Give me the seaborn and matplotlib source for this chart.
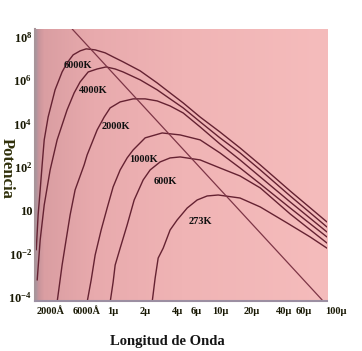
import numpy as np
import pandas as pd
import matplotlib
matplotlib.use('Agg')
import matplotlib.pyplot as plt
import matplotlib.transforms as mtransforms
import seaborn as sns

# longitud de onda (micras) / potencia
lam_6000 = [0.192, 0.200, 0.209, 0.218, 0.228, 0.248, 0.288, 0.335, 0.373, 0.425, 0.494, 0.562, 0.682,
            0.846, 1.004, 1.246, 1.796, 2.589, 3.42, 4.53, 6.53, 10.0, 15.4, 23.8, 45.3, 100]
pot_6000 = [1.5e-2, 0.61, 8.7, 124, 1.77e3, 2.0e4, 3.6e5, 2.4e6, 6.3e6, 1.48e7, 2.26e7, 2.79e7, 2.51e7,
            1.83e7, 1.19e7, 7.0e6, 2.7e6, 7.5e5, 2.6e5, 9.0e4, 2.0e4, 4.1e3, 755, 124, 7.8, 0.29]

lam_4000 = [0.196, 0.209, 0.228, 0.259, 0.301, 0.373, 0.434, 0.494, 0.587, 0.712, 0.864, 1.049, 1.246,
            1.796, 2.589, 3.42, 4.53, 6.53, 10.0, 15.4, 23.8, 45.3, 100]
pot_4000 = [6.1e-4, 0.043, 1.77, 73, 1.77e3, 4.3e4, 2.6e5, 8.4e5, 2.4e6, 3.3e6, 4.1e6, 3.3e6, 2.4e6,
            1.04e6, 3.6e5, 1.38e5, 5.3e4, 1.2e4, 2.2e3, 444, 73, 4.6, 0.17]

lam_2000 = [0.301, 0.335, 0.365, 0.398, 0.443, 0.538, 0.574, 0.712, 0.828, 0.942, 1.168, 1.545, 2.0,
            2.589, 3.42, 4.53, 6.53, 10.0, 15.4, 23.8, 45.3, 100]
pot_2000 = [5.9e-5, 3.0e-3, 0.043, 0.61, 8.7, 124, 359, 5.1e3, 2.0e4, 5.3e4, 1.0e5, 1.38e5, 1.38e5,
            1.11e5, 6.5e4, 3.1e4, 7.0e3, 1.15e3, 211, 34.7, 2.43, 0.100]

lam_1000 = [0.574, 0.626, 0.682, 0.776, 0.883, 1.004, 1.168, 1.357, 1.545, 2.0, 2.884, 4.25, 6.53,
            10.0, 15.4, 23.8, 45.3, 100]
pot_1000 = [5.9e-5, 6.1e-4, 8.7e-3, 0.124, 1.28, 12.0, 73, 261, 610, 2.2e3, 3.7e3, 3.0e3, 1.77e3,
            444, 90, 16.5, 1.28, 0.059]

lam_600 = [0.942, 1.004, 1.049, 1.168, 1.357, 1.579, 1.916, 2.227, 2.762, 3.42, 4.25, 6.53, 10.0,
           15.4, 23.8, 45.3, 100]
pot_600 = [5.9e-5, 4.9e-4, 3.0e-3, 0.018, 0.21, 3.0, 25.2, 73, 171, 261, 290, 211, 90,
           38.5, 10.8, 0.68, 0.031]

lam_273 = [2.325, 2.48, 2.646, 2.947, 3.42, 3.98, 4.94, 6.12, 7.59, 9.62, 15.4, 23.8, 42.5, 69.7, 100]
pot_273 = [5.9e-5, 7.6e-4, 6.3e-3, 0.018, 0.124, 0.36, 1.28, 3.0, 4.6, 5.1, 3.7, 1.43, 0.26, 0.059, 0.018]

# linea de los maximos (Wien)
wien_lam = [0.416, 90.2]
wien_pot = [2.3e8, 7.3e-5]

temps = ['6000K', '4000K', '2000K', '1000K', '600K', '273K']
etiq_lam = [0.473, 0.653, 1.072, 1.916, 3.08, 6.53]
etiq_pot = [4.6e6, 3.2e5, 7.0e3, 211, 20.4, 0.29]

xticks = [0.2, 0.6, 1, 2, 4, 6, 10, 20, 40, 60, 100]
xtick_labels = ['2000Å', '6000Å', '1μ', '2μ', '4μ', '6μ', '10μ', '20μ', '40μ', '60μ', '100μ']
xminor = [0.4, 0.8, 8, 80]
yticks = [1e8, 1e6, 1e4, 1e2, 1e0, 1e-2, 1e-4]
ytick_labels = [r'$\mathbf{10^{8}}$', r'$\mathbf{10^{6}}$', r'$\mathbf{10^{4}}$', r'$\mathbf{10^{2}}$',
                '10', r'$\mathbf{10^{-2}}$', r'$\mathbf{10^{-4}}$']

curvas = pd.concat([
    pd.DataFrame({'lam': l, 'pot': p, 'T': t})
    for l, p, t in zip([lam_6000, lam_4000, lam_2000, lam_1000, lam_600, lam_273],
                       [pot_6000, pot_4000, pot_2000, pot_1000, pot_600, pot_273], temps)
], ignore_index=True)

sns.set_style('white')
plt.rcParams['font.family'] = ['Liberation Serif', 'DejaVu Serif']
plt.rcParams['mathtext.fontset'] = 'custom'
plt.rcParams['mathtext.bf'] = 'Liberation Serif:bold'
plt.rcParams['mathtext.rm'] = 'Liberation Serif'

fig = plt.figure(figsize=(3.62, 3.51), dpi=100)
rect = [35 / 362, 1 - 301 / 351, 292 / 362, 272 / 351]

# fondo rosado, mas oscuro a la izquierda
bg = fig.add_axes(rect, zorder=0)
pos = [0.0, 0.012, 0.03, 0.2, 0.5, 1.0]
cols = np.array([[165, 148, 158], [200, 148, 155], [218, 158, 162],
                 [232, 170, 173], [240, 180, 181], [245, 188, 188]]) / 255
xs = np.linspace(0, 1, 400)
row = np.stack([np.interp(xs, pos, cols[:, k]) for k in range(3)], axis=-1)
bg.imshow(row[None, :, :], extent=[0, 1, 0, 1], aspect='auto')
bg.axis('off')

ax = fig.add_axes(rect, zorder=1)
ax.set_facecolor('none')
ax.set_xscale('log')
ax.set_yscale('log')

sns.lineplot(data=curvas, x='lam', y='pot', units='T', estimator=None, sort=False,
             color='#652232', lw=1.0, ax=ax, legend=False)
sns.lineplot(x=wien_lam, y=wien_pot, color='#7d3546', lw=0.9, ax=ax)

for t, xl, yl in zip(temps, etiq_lam, etiq_pot):
    ax.text(xl, yl, t, ha='center', va='center', fontsize=7.5, fontweight='bold', color='#111111')

ax.set_xlim(0.187, 100)
ax.set_ylim(6.6e-5, 2.3e8)

ax.set_xticks(xticks)
ax.set_xticklabels(xtick_labels, fontsize=7.5, fontweight='bold', color='#1a1a05')
ax.set_xticks(xminor, minor=True)
ax.set_xticklabels([], minor=True)
ax.set_yticks(yticks)
ax.set_yticklabels(ytick_labels, fontsize=9, fontweight='bold', color='#1a1a05')
ax.yaxis.set_minor_locator(matplotlib.ticker.NullLocator())
ax.tick_params(axis='x', which='both', direction='in', length=3, width=0.8, color='#4a3a3a', pad=4)
ax.tick_params(axis='y', length=0, pad=2)

offsets = {0: 13, 1: -3, 10: 9}
for i, lab in enumerate(ax.get_xticklabels()):
    dx = offsets.get(i, 0)
    lab.set_transform(lab.get_transform() + mtransforms.ScaledTranslation(dx / 100, 0, fig.dpi_scale_trans))

for s in ['top', 'right']:
    ax.spines[s].set_visible(False)
ax.spines['left'].set_color('#a8959a')
ax.spines['left'].set_linewidth(1.5)
ax.spines['bottom'].set_color('#9c8fa2')
ax.spines['bottom'].set_linewidth(1.5)

ax.set_xlabel('Longitud de Onda', fontsize=10.5, fontweight='bold', color='#151515')
ax.xaxis.set_label_coords((167.5 - 35) / 292, (301 - 341) / 272)
ax.xaxis.label.set_va('center')
ax.set_ylabel('Potencia', fontsize=12, fontweight='bold', color='#30300a', rotation=270)
ax.yaxis.set_label_coords((7 - 35) / 292, (301 - 168) / 272)
ax.yaxis.label.set_va('center')

fig.savefig('out.png', dpi=100)
